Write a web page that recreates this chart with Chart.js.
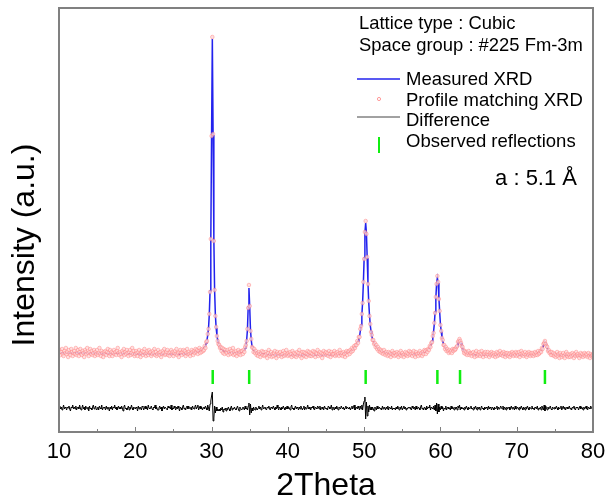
<!DOCTYPE html>
<html>
<head>
<meta charset="utf-8">
<script src="https://cdn.jsdelivr.net/npm/chart.js@4.4.0/dist/chart.umd.min.js"></script>
<style>
  html, body { margin: 0; padding: 0; background: #fff; }
  #wrap { width: 607px; height: 502px; }
</style>
</head>
<body>
<div id="wrap"><canvas id="xrd" width="607" height="502"></canvas></div>
<script>
// 2theta grid shared by the profile points and the difference curve
const twoThetaStart = 10
const twoThetaStep = 0.1

// profile matching XRD, one row per degree (10.0 ... 79.9, then 80.0)
const profileCounts = [
  79, 82, 77, 80, 83, 78, 76, 81, 79, 84,
  78, 80, 75, 82, 79, 77, 83, 80, 76, 79,
  81, 78, 84, 77, 79, 82, 76, 80, 83, 78,
  77, 81, 79, 75, 82, 80, 78, 84, 79, 76,
  80, 83, 78, 81, 77, 79, 82, 76, 80, 78,
  82, 77, 79, 84, 78, 76, 81, 79, 75, 80,
  78, 81, 77, 80, 83, 79, 76, 82, 78, 80,
  76, 79, 82, 78, 80, 77, 81, 84, 79, 77,
  80, 78, 75, 81, 79, 83, 77, 80, 78, 82,
  79, 76, 80, 82, 77, 79, 84, 78, 81, 76,
  78, 81, 79, 76, 80, 82, 78, 75, 79, 81,
  77, 80, 83, 78, 76, 79, 81, 77, 82, 79,
  80, 76, 78, 81, 79, 83, 77, 80, 76, 78,
  82, 79, 77, 80, 75, 78, 81, 79, 83, 77,
  78, 80, 82, 77, 79, 76, 80, 82, 78, 80,
  76, 79, 81, 78, 83, 77, 79, 75, 80, 82,
  79, 77, 80, 82, 78, 81, 76, 79, 83, 78,
  80, 78, 76, 79, 82, 80, 77, 81, 79, 83,
  80, 82, 78, 81, 84, 79, 82, 80, 83, 81,
  82, 86, 84, 90, 91, 98, 103, 118, 140, 193,
  296, 395, 298, 191, 142, 116, 105, 96, 91, 88,
  87, 84, 85, 81, 84, 79, 83, 78, 82, 80,
  79, 82, 77, 80, 83, 78, 81, 79, 84, 77,
  80, 78, 81, 76, 79, 82, 78, 80, 77, 81,
  81, 78, 82, 80, 85, 87, 91, 103, 124, 147,
  126, 101, 93, 85, 84, 80, 83, 79, 81, 77,
  79, 76, 80, 78, 75, 79, 81, 77, 80, 76,
  77, 80, 78, 74, 79, 82, 76, 78, 80, 75,
  78, 76, 79, 81, 77, 74, 80, 78, 76, 79,
  80, 77, 75, 78, 81, 76, 79, 77, 82, 78,
  76, 79, 77, 80, 78, 75, 81, 77, 79, 76,
  78, 75, 80, 77, 79, 82, 76, 78, 74, 80,
  77, 80, 76, 79, 75, 78, 81, 77, 80, 76,
  79, 76, 78, 81, 77, 80, 75, 79, 78, 82,
  76, 78, 80, 77, 79, 74, 78, 81, 77, 79,
  80, 77, 79, 76, 81, 78, 75, 80, 78, 77,
  78, 81, 76, 79, 77, 80, 78, 76, 82, 79,
  77, 79, 76, 80, 78, 75, 79, 81, 77, 80,
  81, 78, 82, 80, 84, 81, 83, 86, 84, 87,
  87, 91, 89, 95, 95, 103, 106, 118, 129, 150,
  173, 200, 211, 198, 175, 148, 131, 116, 108, 100,
  97, 92, 92, 88, 89, 85, 87, 83, 85, 81,
  83, 80, 82, 79, 81, 78, 82, 79, 77, 80,
  78, 76, 80, 77, 79, 75, 78, 81, 77, 79,
  76, 79, 77, 80, 78, 75, 79, 77, 81, 76,
  79, 77, 75, 78, 80, 77, 79, 76, 78, 81,
  77, 80, 78, 76, 79, 81, 77, 75, 80, 78,
  78, 76, 79, 81, 77, 79, 76, 80, 78, 82,
  81, 78, 82, 80, 83, 82, 86, 85, 89, 90,
  96, 99, 109, 119, 135, 148, 156, 150, 133, 121,
  107, 101, 94, 92, 87, 87, 83, 85, 81, 83,
  81, 79, 82, 80, 81, 79, 83, 81, 83, 82,
  83, 85, 86, 90, 91, 93, 91, 89, 86, 85,
  82, 79, 81, 78, 80, 77, 79, 81, 77, 79,
  78, 76, 79, 80, 77, 75, 79, 81, 76, 78,
  77, 80, 76, 78, 81, 77, 75, 79, 78, 80,
  76, 78, 80, 77, 75, 79, 77, 80, 78, 76,
  79, 77, 75, 78, 80, 76, 79, 77, 81, 78,
  77, 79, 76, 80, 78, 75, 79, 77, 79, 76,
  78, 75, 79, 77, 80, 78, 76, 79, 77, 80,
  76, 79, 77, 80, 75, 78, 81, 77, 79, 76,
  78, 80, 77, 75, 79, 77, 80, 78, 76, 79,
  77, 79, 76, 78, 80, 77, 79, 77, 81, 78,
  79, 81, 80, 84, 83, 88, 89, 91, 88, 86,
  85, 81, 82, 79, 80, 77, 80, 77, 79, 76,
  78, 75, 77, 80, 76, 78, 74, 79, 77, 75,
  77, 79, 76, 74, 78, 80, 76, 78, 75, 77,
  75, 78, 76, 79, 77, 74, 78, 76, 80, 77,
  78, 76, 74, 77, 79, 76, 78, 75, 77, 79,
  76, 78, 77, 75, 79, 76, 74, 78, 76, 77,
  77
]

// difference curve (offset below the pattern), same grid
const differenceCounts = [
  24, 26, 23, 25, 22, 24, 27, 23, 25, 24,
  22, 25, 24, 26, 23, 21, 25, 24, 27, 23,
  25, 23, 26, 22, 24, 25, 23, 27, 24, 22,
  24, 27, 23, 25, 22, 26, 24, 23, 25, 21,
  26, 23, 24, 22, 25, 27, 23, 24, 26, 22,
  23, 25, 22, 26, 24, 23, 27, 22, 24, 25,
  24, 22, 26, 23, 25, 24, 21, 25, 23, 26,
  22, 25, 24, 27, 23, 25, 22, 24, 26, 23,
  25, 23, 26, 24, 21, 25, 27, 23, 24, 22,
  24, 26, 22, 25, 23, 27, 24, 22, 25, 24,
  23, 25, 24, 21, 26, 23, 25, 24, 22, 26,
  25, 22, 24, 26, 23, 25, 22, 27, 24, 23,
  24, 26, 23, 22, 25, 24, 27, 23, 25, 22,
  22, 24, 26, 23, 25, 21, 24, 26, 23, 25,
  25, 23, 22, 26, 24, 25, 23, 27, 22, 24,
  23, 26, 24, 22, 25, 23, 26, 24, 21, 25,
  24, 22, 25, 27, 23, 24, 22, 25, 26, 23,
  26, 24, 23, 25, 22, 26, 24, 23, 25, 27,
  23, 25, 27, 22, 24, 26, 23, 25, 22, 24,
  25, 23, 26, 24, 22, 27, 24, 21, 28, 31,
  36, 40, 11, 14, 26, 19, 25, 21, 23, 21,
  23, 21, 24, 22, 25, 20, 23, 22, 24, 21,
  24, 22, 25, 23, 21, 24, 26, 22, 24, 23,
  25, 23, 22, 24, 26, 23, 21, 25, 24, 22,
  23, 25, 24, 22, 26, 23, 24, 22, 26, 29,
  17, 28, 19, 24, 21, 25, 23, 22, 25, 23,
  22, 24, 26, 23, 25, 22, 24, 27, 23, 24,
  25, 23, 22, 25, 24, 26, 23, 22, 25, 24,
  23, 26, 24, 22, 25, 23, 27, 24, 22, 25,
  24, 22, 25, 23, 26, 24, 22, 25, 23, 26,
  23, 25, 24, 22, 25, 27, 23, 24, 22, 24,
  26, 23, 25, 24, 22, 25, 23, 26, 24, 22,
  24, 26, 22, 25, 23, 24, 27, 23, 25, 23,
  22, 25, 24, 26, 23, 22, 25, 24, 23, 26,
  25, 23, 26, 22, 24, 25, 23, 22, 26, 24,
  23, 24, 22, 26, 25, 23, 24, 27, 22, 25,
  24, 22, 25, 23, 26, 24, 22, 25, 24, 23,
  26, 24, 23, 25, 22, 24, 26, 23, 25, 24,
  23, 25, 22, 24, 26, 23, 25, 27, 22, 24,
  25, 23, 26, 24, 22, 26, 23, 27, 22, 28,
  31, 35, 13, 30, 16, 26, 20, 27, 22, 25,
  22, 25, 23, 21, 25, 24, 22, 26, 23, 24,
  25, 23, 24, 22, 26, 23, 25, 24, 22, 25,
  23, 26, 22, 25, 24, 23, 26, 22, 24, 23,
  24, 22, 25, 23, 26, 24, 22, 25, 23, 26,
  22, 24, 26, 23, 25, 22, 24, 23, 25, 24,
  25, 23, 22, 26, 24, 23, 25, 22, 26, 23,
  23, 25, 24, 22, 25, 27, 23, 24, 22, 25,
  24, 22, 26, 23, 25, 24, 27, 22, 25, 24,
  23, 26, 22, 27, 21, 29, 18, 28, 20, 25,
  22, 26, 23, 25, 21, 24, 23, 26, 22, 24,
  25, 23, 24, 22, 26, 23, 25, 24, 22, 25,
  23, 25, 22, 26, 24, 27, 22, 25, 23, 24,
  24, 22, 25, 23, 26, 24, 22, 25, 23, 24,
  26, 23, 24, 22, 25, 23, 26, 24, 22, 25,
  23, 25, 22, 24, 26, 23, 24, 22, 25, 23,
  25, 24, 22, 26, 23, 25, 24, 22, 25, 24,
  22, 25, 23, 24, 26, 22, 25, 23, 24, 26,
  24, 23, 26, 22, 25, 24, 22, 25, 23, 24,
  25, 22, 24, 26, 23, 25, 24, 22, 26, 23,
  23, 25, 24, 22, 25, 23, 26, 24, 22, 25,
  24, 22, 25, 23, 26, 24, 22, 25, 24, 23,
  26, 23, 24, 22, 25, 24, 23, 26, 22, 24,
  23, 25, 22, 26, 24, 22, 27, 21, 26, 24,
  22, 25, 23, 24, 26, 23, 22, 25, 24, 23,
  25, 23, 26, 24, 22, 25, 23, 24, 26, 22,
  24, 26, 23, 25, 22, 24, 25, 23, 24, 26,
  23, 24, 22, 25, 24, 26, 23, 22, 25, 24,
  25, 22, 24, 26, 23, 25, 24, 22, 25, 23,
  24, 26, 23, 22, 25, 24, 23, 26, 24, 23,
  24
]

// measured XRD (blue line), denser around the peaks
const measuredAngles = [
  10, 11, 12, 13, 14, 15, 16, 17, 18, 19, 20, 21, 22, 23, 24, 25, 26, 27, 28, 28.5,
  29, 29.1, 29.2, 29.3, 29.4, 29.5, 29.6, 29.7, 29.8, 29.9,
  30, 30.1, 30.2, 30.3, 30.4, 30.5, 30.6, 30.7, 30.8, 30.9,
  31, 31.1, 31.2, 31.5, 32, 33, 34, 34.3, 34.4, 34.5, 34.6, 34.7, 34.8, 34.9,
  35, 35.1, 35.2, 35.3, 35.4, 35.5, 36, 37, 38, 39, 40, 41, 42, 43, 44, 45, 46, 47,
  48, 48.5, 48.8, 48.9, 49, 49.1, 49.2, 49.3, 49.4, 49.5, 49.6, 49.7, 49.8, 49.9,
  50, 50.1, 50.2, 50.3, 50.4, 50.5, 50.6, 50.7, 50.8, 50.9,
  51, 51.1, 51.2, 51.5, 52, 52.5, 53, 54, 55, 56, 57, 58, 58.5, 58.8, 58.9,
  59, 59.1, 59.2, 59.3, 59.4, 59.5, 59.6, 59.7, 59.8, 59.9,
  60, 60.1, 60.2, 60.3, 60.4, 60.6, 61, 61.5, 62, 62.2, 62.3, 62.4, 62.5, 62.6, 62.7, 62.8, 63, 63.5,
  64, 65, 66, 67, 68, 69, 70, 71, 72, 72.5, 73, 73.2, 73.4, 73.5, 73.6, 73.7, 73.8, 73.9,
  74, 74.2, 74.5, 75, 76, 77, 78, 79, 80
]
const measuredCounts = [
  79, 79, 79, 79, 79, 78.5, 78.5, 78.5, 78.5, 78.5, 78, 78, 78, 78, 78, 78, 78, 78.5, 80, 81,
  84, 85, 86.5, 89, 92, 97, 104, 117, 141, 192,
  297, 393, 297, 192, 141, 117, 104, 97, 92, 89,
  86.5, 85, 84, 81.5, 80, 79, 80, 82, 84, 86, 92, 102, 125, 144,
  125, 102, 92, 86, 84, 82, 79, 78, 77, 77, 77, 77, 77, 77, 77, 77, 77, 78,
  80, 82, 85, 86.5, 88, 89, 91, 93, 96, 101, 107, 117, 130, 149,
  174, 199, 209, 199, 174, 149, 130, 117, 107, 101,
  96, 93, 91, 86.5, 82, 80, 79, 78, 77.5, 77.5, 78, 80, 83, 88, 91,
  95, 100.5, 108, 120, 134, 149, 154, 149, 134, 120,
  108, 100.5, 95, 91, 88, 84.5, 81.5, 80.5, 83, 86, 89, 91, 92, 91, 89, 86, 82.5, 79,
  77.5, 77, 77, 77, 77, 77, 77, 77, 77, 78, 80, 81, 84, 86.5, 89, 90, 89, 87,
  84, 81, 79, 77.5, 77, 76.5, 76.5, 76.5, 76.5
]

// observed reflections (green bars) and the band they sit in
const reflectionAngles = [30.15, 34.93, 50.2, 59.6, 62.57, 73.7]
const reflectionLow = 48
const reflectionHigh = 62

const axisTitles = ["2Theta", "Intensity (a.u.)"]
const infoLines = ["Lattice type : Cubic", "Space group : #225 Fm-3m"]
const legendLabels = ["Measured XRD", "Profile matching XRD", "Difference", "Observed reflections"]
const latticeLabel = "a : 5.1 \u00C5"

const FONT = 'Arial, "Liberation Sans", sans-serif'

const onGrid = counts => counts.map((c, i) => ({ x: +(twoThetaStart + i * twoThetaStep).toFixed(1), y: c }))

const reflectionPoints = reflectionAngles.flatMap(a => [
  { x: a, y: reflectionLow }, { x: a, y: reflectionHigh }, { x: a, y: null }
])

// frame, inward ticks, y title and the text block in the upper right
const frameAndNotes = {
  id: "frameAndNotes",
  afterDraw(chart) {
    const { ctx, chartArea: a, scales: { x } } = chart
    ctx.save()
    ctx.strokeStyle = "#808080"
    ctx.lineWidth = 1
    for (let v = 15; v < 80; v += 5) {
      const px = Math.round(x.getPixelForValue(v)) + 0.5
      const len = v % 10 === 0 ? 5 : 3
      ctx.beginPath()
      ctx.moveTo(px, a.bottom)
      ctx.lineTo(px, a.bottom - len)
      ctx.stroke()
    }
    ctx.lineWidth = 2
    ctx.strokeRect(a.left, a.top, a.right - a.left, a.bottom - a.top)

    // y axis title sits lower than the plot centre in the original
    ctx.save()
    ctx.translate(25, 245)
    ctx.rotate(-Math.PI / 2)
    ctx.fillStyle = "#000"
    ctx.font = "32px " + FONT
    ctx.textAlign = "center"
    ctx.textBaseline = "middle"
    ctx.fillText(axisTitles[1], 0, 0)
    ctx.restore()

    ctx.fillStyle = "#000"
    ctx.textBaseline = "alphabetic"
    ctx.textAlign = "left"
    ctx.font = "18.4px " + FONT
    ctx.fillText(infoLines[0], 359, 29)
    ctx.fillText(infoLines[1], 359, 50.5)

    const rows = [85, 105.5, 126, 146.5]
    ctx.font = "18.5px " + FONT
    legendLabels.forEach((t, i) => ctx.fillText(t, 406, rows[i]))

    ctx.lineWidth = 1.5
    ctx.strokeStyle = "#2222ee"
    ctx.beginPath(); ctx.moveTo(357, 79); ctx.lineTo(400, 79); ctx.stroke()
    ctx.lineWidth = 0.8
    ctx.strokeStyle = "rgba(255,100,100,0.8)"
    ctx.beginPath(); ctx.arc(379, 99, 1.6, 0, Math.PI * 2); ctx.stroke()
    ctx.lineWidth = 1
    ctx.strokeStyle = "#444"
    ctx.beginPath(); ctx.moveTo(357, 117); ctx.lineTo(400, 117); ctx.stroke()
    ctx.lineWidth = 2
    ctx.strokeStyle = "#11ee11"
    ctx.beginPath(); ctx.moveTo(379, 137); ctx.lineTo(379, 153); ctx.stroke()

    ctx.font = "22px " + FONT
    ctx.textAlign = "right"
    ctx.fillText(latticeLabel, 577, 185)
    ctx.restore()
  }
}

new Chart(document.getElementById("xrd"), {
  type: "line",
  data: {
    datasets: [
      {
        label: legendLabels[1],
        data: onGrid(profileCounts),
        showLine: false,
        pointStyle: "circle",
        pointRadius: 1.8,
        pointBorderWidth: 0.8,
        pointBorderColor: "rgba(255,120,120,0.55)",
        pointBackgroundColor: "rgba(255,215,215,0.75)",
        order: 1,
      },
      {
        label: legendLabels[0],
        data: measuredAngles.map((a, i) => ({ x: a, y: measuredCounts[i] })),
        borderColor: "#2222ee",
        borderWidth: 1.5,
        pointRadius: 0,
        tension: 0,
        order: 2,
      },
      {
        label: legendLabels[3],
        data: reflectionPoints,
        borderColor: "#11ee11",
        borderWidth: 2.5,
        pointRadius: 0,
        spanGaps: false,
        order: 3,
      },
      {
        label: legendLabels[2],
        data: onGrid(differenceCounts),
        borderColor: "#000",
        borderWidth: 1,
        pointRadius: 0,
        order: 4,
      },
    ],
  },
  options: {
    responsive: false,
    animation: false,
    devicePixelRatio: 1,
    layout: { padding: { left: 0, right: 14, top: 8, bottom: 0 } },
    plugins: { legend: { display: false }, tooltip: { enabled: false } },
    scales: {
      x: {
        type: "linear",
        min: 10,
        max: 80,
        grid: { display: false, drawTicks: false },
        border: { display: false },
        ticks: { stepSize: 10, color: "#000", padding: 7, font: { family: FONT, size: 22 } },
        title: { display: true, text: axisTitles[0], color: "#000", padding: 0, font: { family: FONT, size: 32, lineHeight: 1 } },
        afterFit(scale) {
          scale.height = 70
          scale.paddingLeft = 0
          scale.paddingRight = 0
        },
      },
      y: {
        min: 0,
        max: 424,
        grid: { display: false, drawTicks: false },
        border: { display: false },
        ticks: { display: false },
        title: { display: false },
        afterFit(scale) { scale.width = 59 },
      },
    },
  },
  plugins: [frameAndNotes],
})
</script>
</body>
</html>
